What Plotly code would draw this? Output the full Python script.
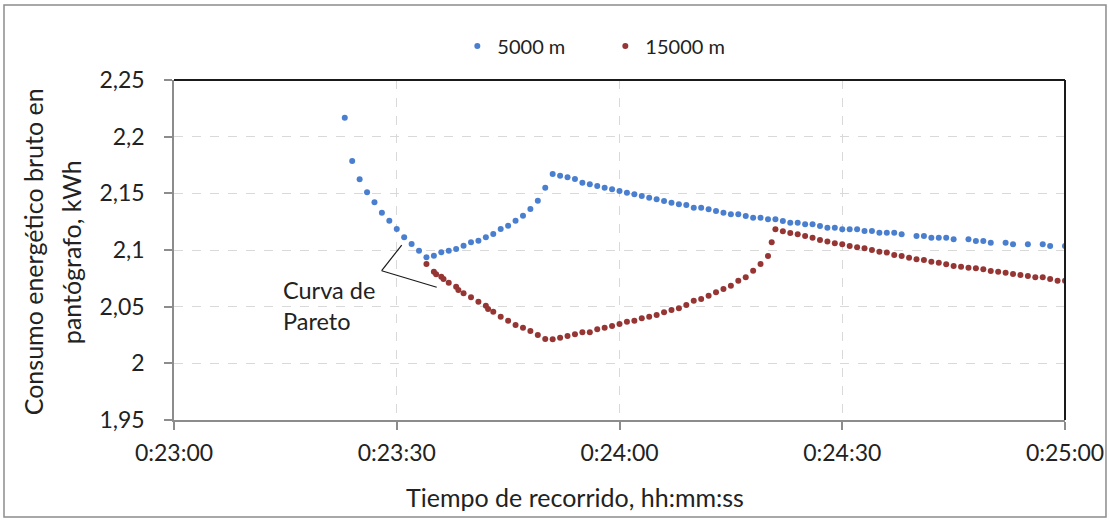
import plotly.graph_objects as go

# ---- data (time in seconds since 0:00:00) ----
t_5000 = [1403, 1404, 1405, 1406, 1407, 1408, 1409, 1410, 1411, 1412, 1413, 1414, 1415, 1416,
          1417, 1418, 1419, 1420, 1421, 1422, 1423, 1424, 1425, 1426, 1427, 1428, 1429, 1430,
          1431, 1432, 1433, 1434, 1435, 1436, 1437, 1438, 1439, 1440, 1441, 1442, 1443, 1444,
          1445, 1446, 1447, 1448, 1449, 1450, 1451, 1452, 1453, 1454, 1455, 1456, 1457, 1458,
          1459, 1460, 1461, 1462, 1463, 1464, 1465, 1466, 1467, 1468, 1469, 1470, 1471, 1472,
          1473, 1474, 1475, 1476, 1477, 1478, 1480, 1481, 1482, 1483, 1484, 1485, 1487, 1488,
          1489, 1490, 1492, 1493, 1495, 1497, 1498, 1500]
e_5000 = [2.2167, 2.1785, 2.1624, 2.1509, 2.1421, 2.1329, 2.1258, 2.1185, 2.1112, 2.1053,
          2.0994, 2.0936, 2.0950, 2.0980, 2.0994, 2.1009, 2.1038, 2.1068, 2.1082, 2.1112,
          2.1141, 2.1185, 2.1214, 2.1258, 2.1303, 2.1362, 2.1435, 2.1550, 2.1671, 2.1656,
          2.1641, 2.1626, 2.1594, 2.1580, 2.1565, 2.1550, 2.1536, 2.1521, 2.1506, 2.1491,
          2.1476, 2.1461, 2.1447, 2.1432, 2.1417, 2.1403, 2.1398, 2.1373, 2.1373, 2.1359,
          2.1344, 2.1329, 2.1315, 2.1315, 2.1300, 2.1285, 2.1285, 2.1271, 2.1271, 2.1256,
          2.1241, 2.1241, 2.1227, 2.1227, 2.1212, 2.1197, 2.1197, 2.1183, 2.1183, 2.1183,
          2.1168, 2.1168, 2.1153, 2.1153, 2.1153, 2.1139, 2.1124, 2.1124, 2.1109, 2.1109,
          2.1109, 2.1094, 2.1094, 2.1079, 2.1079, 2.1064, 2.1064, 2.1050, 2.1050, 2.1050,
          2.1035, 2.1035]

t_15000 = [1414, 1415, 1415.3, 1416, 1416.3, 1417, 1418, 1418.3, 1419, 1420, 1421, 1422, 1422.3,
           1423, 1424, 1425, 1426, 1427, 1428, 1429, 1430, 1431, 1432, 1433, 1434, 1435, 1436,
           1437, 1438, 1439, 1440, 1441, 1442, 1443, 1444, 1445, 1446, 1447, 1448, 1449, 1450,
           1451, 1452, 1453, 1454, 1455, 1456, 1457, 1458, 1459, 1460, 1460.5, 1461, 1462, 1463,
           1464, 1465, 1466, 1467, 1468, 1469, 1470, 1471, 1472, 1473, 1474, 1475, 1476, 1477,
           1478, 1479, 1480, 1481, 1482, 1483, 1484, 1485, 1486, 1487, 1488, 1489, 1490, 1491,
           1492, 1493, 1494, 1495, 1496, 1497, 1498, 1499, 1500]
e_15000 = [2.0876, 2.0808, 2.0786, 2.0764, 2.0744, 2.0711, 2.0676, 2.0647, 2.0618, 2.0583,
           2.0544, 2.0509, 2.0479, 2.0456, 2.0411, 2.0376, 2.0338, 2.0314, 2.0285, 2.0250,
           2.0215, 2.0212, 2.0226, 2.0241, 2.0256, 2.0274, 2.0274, 2.0300, 2.0314, 2.0329,
           2.0347, 2.0367, 2.0376, 2.0397, 2.0411, 2.0426, 2.0450, 2.0471, 2.0485, 2.0515,
           2.0553, 2.0568, 2.0597, 2.0627, 2.0656, 2.0685, 2.0729, 2.0759, 2.0818, 2.0876,
           2.0947, 2.1068, 2.1183, 2.1165, 2.1150, 2.1139, 2.1124, 2.1109, 2.1088, 2.1074,
           2.1059, 2.1050, 2.1035, 2.1024, 2.1015, 2.1000, 2.0985, 2.0977, 2.0956, 2.0947,
           2.0932, 2.0918, 2.0912, 2.0897, 2.0888, 2.0874, 2.0859, 2.0853, 2.0844, 2.0838,
           2.0830, 2.0815, 2.0808, 2.0800, 2.0788, 2.0779, 2.0771, 2.0759, 2.0759, 2.0744,
           2.0729, 2.0729]

x_tick_vals = [1380, 1410, 1440, 1470, 1500]
x_tick_text = ["0:23:00", "0:23:30", "0:24:00", "0:24:30", "0:25:00"]
y_tick_vals = [1.95, 2.0, 2.05, 2.1, 2.15, 2.2, 2.25]
y_tick_text = ["1,95", "2", "2,05", "2,1", "2,15", "2,2", "2,25"]

FONT = "Lato"
TXT = "#222222"
BLUE = "#4a7fcf"
RED = "#963634"

fig = go.Figure()
fig.add_trace(go.Scatter(x=t_5000, y=e_5000, mode="markers", name="5000 m",
                         marker=dict(color=BLUE, size=6)))
fig.add_trace(go.Scatter(x=t_15000, y=e_15000, mode="markers", name="15000 m",
                         marker=dict(color=RED, size=6)))

fig.update_layout(
    width=1109, height=521,
    margin=dict(l=174, r=44, t=80, b=101, autoexpand=False),
    paper_bgcolor="white", plot_bgcolor="white",
    font=dict(family=FONT, color=TXT, size=22),
    showlegend=True,
    legend=dict(orientation="h", x=0.318, xanchor="left", y=1.1, yanchor="middle",
                font=dict(size=20, family=FONT, color=TXT), itemwidth=30,
                entrywidth=103, bgcolor="rgba(0,0,0,0)"),
    xaxis=dict(range=[1380, 1500], tickvals=x_tick_vals, ticktext=x_tick_text,
               showgrid=True, gridcolor="#d9d9d9", griddash="dash", gridwidth=1,
               showline=True, linecolor="#8c8c8c", linewidth=1.5,
               ticks="outside", ticklen=8, tickcolor="#8c8c8c", tickwidth=1.5,
               zeroline=False, ticklabelstandoff=4,
               tickfont=dict(size=23, family=FONT, color=TXT)),
    yaxis=dict(range=[1.95, 2.25], tickvals=y_tick_vals, ticktext=y_tick_text,
               showgrid=True, gridcolor="#d9d9d9", griddash="dash", gridwidth=1,
               showline=True, linecolor="#8c8c8c", linewidth=1.5,
               ticks="outside", ticklen=8, tickcolor="#8c8c8c", tickwidth=1.5,
               zeroline=False, ticklabelstandoff=15,
               tickfont=dict(size=23, family=FONT, color=TXT)),
)

# top and right frame lines (black)
fig.add_shape(type="line", xref="paper", yref="paper", x0=0, x1=1, y0=1, y1=1,
              line=dict(color="#1a1a1a", width=2))
fig.add_shape(type="line", xref="paper", yref="paper", x0=1, x1=1, y0=0, y1=1,
              line=dict(color="#1a1a1a", width=2))
# outer chart border
fig.add_shape(type="rect", xref="paper", yref="paper", x0=-0.1908, x1=1.046,
              y0=-0.285, y1=1.2206, line=dict(color="#8c8c8c", width=1.5))

# x axis title
fig.add_annotation(text="Tiempo de recorrido, hh:mm:ss", xref="paper", yref="paper",
                   x=0.45, y=-0.2265, showarrow=False,
                   font=dict(size=25, family=FONT, color=TXT), xanchor="center", yanchor="middle")
# y axis title (two lines)
fig.add_annotation(text="Consumo energético bruto en", xref="paper", yref="paper",
                   x=-0.158, y=0.494, textangle=-90, showarrow=False,
                   font=dict(size=25, family=FONT, color=TXT), xanchor="center", yanchor="middle")
fig.add_annotation(text="pantógrafo, kWh", xref="paper", yref="paper",
                   x=-0.1155, y=0.494, textangle=-90, showarrow=False,
                   font=dict(size=25, family=FONT, color=TXT), xanchor="center", yanchor="middle")

# Pareto annotation
fig.add_annotation(text="Curva de<br>Pareto", x=1394.4, y=2.0506, xref="x", yref="y",
                   showarrow=False, align="left", xanchor="left", yanchor="middle",
                   font=dict(size=23.5, family=FONT, color=TXT))
fig.add_shape(type="line", xref="x", yref="y", x0=1407.97, y0=2.0817, x1=1410.67, y1=2.1044,
              line=dict(color="#1a1a1a", width=1.2))
fig.add_shape(type="line", xref="x", yref="y", x0=1407.97, y0=2.0817, x1=1415.38, y1=2.0671,
              line=dict(color="#1a1a1a", width=1.2))

fig.write_html("out.html", config={"displayModeBar": False},
               post_script="document.body.style.margin='0';")
